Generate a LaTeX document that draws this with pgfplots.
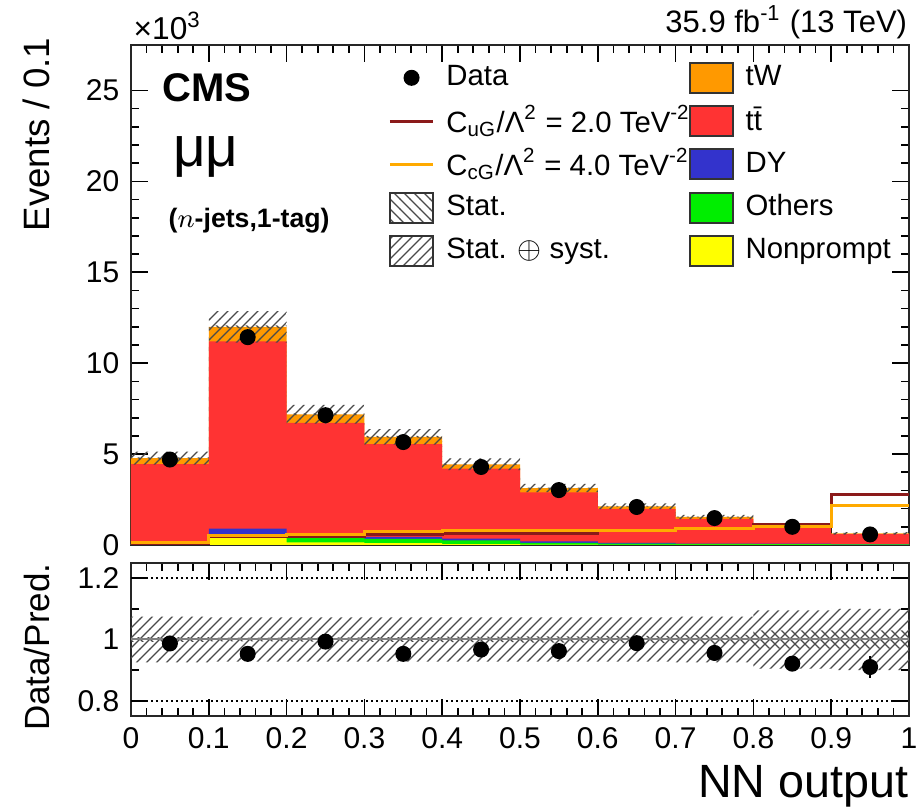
\documentclass[border=0pt]{standalone}
\usepackage{fontspec}
\setmainfont{Liberation Sans}
\usepackage{pgfplots}
\usepackage{pgfplotstable}
\pgfplotsset{compat=1.18}
\usetikzlibrary{patterns}

\definecolor{cTW}{HTML}{FF9900}
\definecolor{cTT}{HTML}{FF3333}
\definecolor{cDY}{HTML}{3333CC}
\definecolor{cOth}{HTML}{00EE00}
\definecolor{cNP}{HTML}{FFFF00}
\definecolor{cUG}{HTML}{8B1A1A}
\definecolor{cCG}{HTML}{FFAA00}
\definecolor{hatchc}{HTML}{4A4A4A}

% events in thousands, one row per bin (left edge); last row closes the step at x=1
\pgfplotstableread{
x    np    oth   dy    tt     tw    ucg   ccg   syst   stat
0.0  0.02  0.04  0.06  4.33   0.33  0.10  0.12  0.075  0.008
0.1  0.40  0.05  0.45  10.30  0.80  0.48  0.50  0.072  0.006
0.2  0.15  0.25  0.05  6.27   0.47  0.48  0.55  0.072  0.007
0.3  0.10  0.23  0.12  5.10   0.40  0.60  0.73  0.072  0.008
0.4  0.05  0.20  0.10  3.85   0.24  0.63  0.82  0.072  0.009
0.5  0.02  0.10  0.08  2.70   0.23  0.65  0.77  0.072  0.010
0.6  0.01  0.07  0.04  1.86   0.15  0.78  0.82  0.072  0.012
0.7  0.01  0.05  0.02  1.36   0.10  0.88  0.93  0.075  0.015
0.8  0.01  0.04  0.02  0.96   0.06  1.10  1.04  0.095  0.030
0.9  0.01  0.03  0.01  0.55   0.04  2.78  2.16  0.100  0.030
1.0  0.01  0.03  0.01  0.55   0.04  2.78  2.16  0.100  0.030
}\stack

% data at bin centres, data/prediction and its error
\pgfplotstableread{
x     data   ratio  err
0.05  4.70   0.987  0.010
0.15  11.43  0.953  0.008
0.25  7.14   0.993  0.010
0.35  5.66   0.953  0.010
0.45  4.29   0.967  0.010
0.55  3.02   0.962  0.012
0.65  2.09   0.988  0.014
0.75  1.48   0.956  0.017
0.85  1.00   0.921  0.025
0.95  0.58   0.910  0.035
}\datatab

\newcommand\tot{(\thisrow{np}+\thisrow{oth}+\thisrow{dy}+\thisrow{tt}+\thisrow{tw})}
\newcommand\fs[1]{\fontsize{#1}{#1}\selectfont}

\pgfplotsset{
  rootax/.style={
    scale only axis, width=233.4pt, xmin=0, xmax=1,
    xtick={0,0.1,0.2,0.3,0.4,0.5,0.6,0.7,0.8,0.9,1},
    minor x tick num=4,
    tick align=inside, xtick pos=both, ytick pos=both,
    xticklabel pos=lower, yticklabel pos=left,
    major tick length=5pt, minor tick length=2.5pt,
    tick style={black, line width=0.5pt},
    axis line style={black!85, line width=0.7pt},
    tick label style={font=\fs{9}},
    /pgf/number format/assume math mode=true,
  },
  mainbox/.style={rootax, at={(0,0)}, anchor=south west, height=150pt, ymin=0, ymax=27.5},
  ratiobox/.style={rootax, at={(0,-5.4pt)}, anchor=north west, height=45.9pt, ymin=0.75, ymax=1.25},
  boxleg/.style={legend image code/.code={\draw[##1] (0pt,-4.5pt) rectangle (13pt,4.5pt);}},
  lineleg/.style={legend image code/.code={\draw[##1] (0pt,0pt) -- (13pt,0pt);}},
  dataleg/.style={legend image code/.code={\fill[black] (6.5pt,0pt) circle (2.2pt);}},
  systpat/.style={pattern=north east lines, pattern color=hatchc},
  statpat/.style={pattern=north west lines, pattern color=hatchc},
}

\begin{document}
\begin{tikzpicture}
\useasboundingbox (-39.3pt,-79.2pt) rectangle (237pt,163.5pt);

% main panel: stacked backgrounds and legend
\begin{axis}[mainbox,
  xticklabels={},
  ytick={0,5,10,15,20,25}, minor y tick num=4,
  legend columns=2, legend cell align=left,
  legend style={draw=none, fill=none, at={(0.330,0.979)}, anchor=north west,
    inner sep=0pt, row sep=0pt, font=\fs{8.8},
    nodes={inner xsep=3.5pt, inner ysep=0pt, minimum height=13pt},
    /tikz/every even column/.append style={column sep=-4pt}},
]
\addlegendimage{dataleg}\addlegendentry{Data}
\addlegendimage{boxleg, fill=cTW, draw=black!80, line width=0.6pt}\addlegendentry{tW}
\addlegendimage{lineleg, cUG, line width=0.9pt}\addlegendentry{C\textsubscript{uG}/Λ\textsuperscript{2} = 2.0 TeV\textsuperscript{-2}}
\addlegendimage{boxleg, fill=cTT, draw=black!80, line width=0.6pt}\addlegendentry{t\={t}}
\addlegendimage{lineleg, cCG, line width=0.9pt}\addlegendentry{C\textsubscript{cG}/Λ\textsuperscript{2} = 4.0 TeV\textsuperscript{-2}}
\addlegendimage{boxleg, fill=cDY, draw=black!80, line width=0.6pt}\addlegendentry{DY}
\addlegendimage{boxleg, statpat, draw=black!80, line width=0.6pt}\addlegendentry{Stat.}
\addlegendimage{boxleg, fill=cOth, draw=black!80, line width=0.6pt}\addlegendentry{Others}
\addlegendimage{boxleg, systpat, draw=black!80, line width=0.6pt}\addlegendentry{Stat. $\oplus$ syst.}
\addlegendimage{boxleg, fill=cNP, draw=black!80, line width=0.6pt}\addlegendentry{Nonprompt}

% drawn from the top layer down
\addplot[const plot, fill=cTW, draw=none, forget plot] table[x=x, y expr=\tot] {\stack} \closedcycle;
\addplot[const plot, fill=cTT, draw=none, forget plot] table[x=x, y expr=\thisrow{np}+\thisrow{oth}+\thisrow{dy}+\thisrow{tt}] {\stack} \closedcycle;
\addplot[const plot, fill=cDY, draw=none, forget plot] table[x=x, y expr=\thisrow{np}+\thisrow{oth}+\thisrow{dy}] {\stack} \closedcycle;
\addplot[const plot, fill=cOth, draw=none, forget plot] table[x=x, y expr=\thisrow{np}+\thisrow{oth}] {\stack} \closedcycle;
\addplot[const plot, fill=cNP, draw=none, forget plot] table[x=x, y=np] {\stack} \closedcycle;
\end{axis}

% main panel: stat+syst band
\begin{axis}[mainbox, hide axis, stack plots=y]
\addplot[const plot, draw=none] table[x=x, y expr=\tot*(1-\thisrow{syst})] {\stack} \closedcycle;
\addplot[const plot, draw=none, systpat] table[x=x, y expr=2*\tot*\thisrow{syst}] {\stack} \closedcycle;
\end{axis}
% main panel: stat band
\begin{axis}[mainbox, hide axis, stack plots=y]
\addplot[const plot, draw=none] table[x=x, y expr=\tot*(1-\thisrow{stat})] {\stack} \closedcycle;
\addplot[const plot, draw=none, statpat] table[x=x, y expr=2*\tot*\thisrow{stat}] {\stack} \closedcycle;
\end{axis}
% main panel: signal hypotheses and data
\begin{axis}[mainbox, hide axis]
\addplot[const plot, cUG, line width=0.9pt] table[x=x, y=ucg] {\stack};
\addplot[const plot, cCG, line width=0.9pt] table[x=x, y=ccg] {\stack};
\addplot[only marks, mark=*, mark size=2.2pt, black] table[x=x, y=data] {\datatab};
\end{axis}

% ratio panel
\begin{axis}[ratiobox, ytick={0.8,1,1.2}, minor ytick={0.9,1.1}]
\addplot[densely dotted, black, line width=0.5pt] coordinates {(0,1.2) (1,1.2)};
\addplot[densely dotted, black, line width=0.5pt] coordinates {(0,0.8) (1,0.8)};
\end{axis}
\begin{axis}[ratiobox, hide axis, stack plots=y]
\addplot[const plot, draw=none] table[x=x, y expr=1-\thisrow{syst}] {\stack} \closedcycle;
\addplot[const plot, draw=none, systpat] table[x=x, y expr=2*\thisrow{syst}] {\stack} \closedcycle;
\end{axis}
\begin{axis}[ratiobox, hide axis, stack plots=y]
\addplot[const plot, draw=none] table[x=x, y expr=1-\thisrow{stat}] {\stack} \closedcycle;
\addplot[const plot, draw=none, statpat] table[x=x, y expr=2*\thisrow{stat}] {\stack} \closedcycle;
\end{axis}
\begin{axis}[ratiobox, hide axis]
\addplot[gray, line width=0.6pt] coordinates {(0,1) (1,1)};
\addplot[only marks, mark=*, mark size=2.2pt, black,
  error bars/.cd, y dir=both, y explicit, error bar style={black, line width=0.5pt}, error mark=none]
  table[x=x, y=ratio, y error=err] {\datatab};
\end{axis}

% titles and labels
\node[anchor=base east, font=\fs{9.3}, inner sep=0pt] at (233pt,153.6pt) {35.9 fb\textsuperscript{-1} (13 TeV)};
\node[anchor=base west, font=\fs{9.5}, inner sep=0pt] at (0.6pt,151.5pt) {×10\textsuperscript{3}};
\node[anchor=base west, font=\bfseries\fs{12}, inner sep=0pt] at (9.3pt,132.9pt) {CMS};
\node[anchor=base west, font=\fs{17}, inner sep=0pt] at (12.5pt,113.4pt) {μμ};
\node[anchor=base west, font=\bfseries\fs{8}, inner sep=0pt] at (11.1pt,95.1pt) {($n$-jets,1-tag)};
\node[rotate=90, anchor=base east, font=\fs{11}, inner sep=0pt] at (-24.3pt,152.4pt) {Events / 0.1};
\node[rotate=90, anchor=base east, font=\fs{10.5}, inner sep=0pt] at (-24.3pt,-5.4pt) {Data/Pred.};
\node[anchor=base east, font=\fs{14}, inner sep=0pt] at (233.4pt,-75.9pt) {NN output};
\end{tikzpicture}
\end{document}
